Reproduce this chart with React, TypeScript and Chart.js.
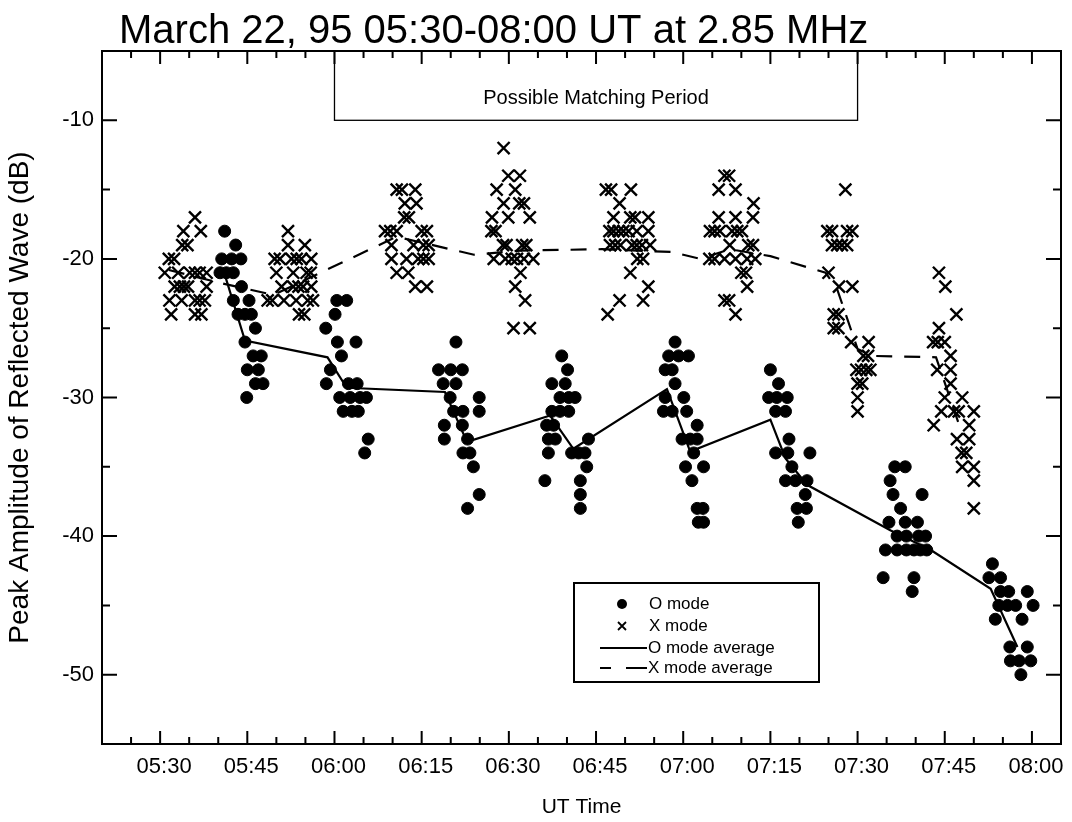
import React, { useEffect, useRef } from "react";
import { Chart, registerables } from "chart.js";

Chart.register(...registerables);

const FONT = '"Liberation Sans", Arial, Helvetica, sans-serif';

// Time values are minutes after 05:00 UT
const oTime = [
  41.1, 43.0, 40.6, 42.3, 43.9, 40.3, 41.4, 42.6, 44.0, 42.6, 45.3, 43.4, 44.6, 45.7, 46.4, 44.6, 46.0, 47.4, 45.0, 46.9, 46.4, 47.7, 44.9,
  60.4, 62.1, 60.1, 58.5, 60.5, 63.7, 61.2, 59.3, 58.6, 62.4, 63.9, 60.9, 62.7, 64.4, 65.5, 61.5, 63.0, 64.1, 65.8, 65.2,
  80.9, 77.9, 80.0, 82.0, 78.7, 80.9, 79.9, 84.9, 80.5, 82.1, 84.9, 78.9, 82.0, 78.9, 82.9, 82.1, 83.3, 83.9, 84.9, 82.9,
  99.1, 100.1, 97.4, 99.7, 98.8, 100.3, 101.4, 97.4, 98.8, 100.3, 96.5, 97.7, 96.8, 98.0, 103.7, 96.8, 100.8, 102.0, 103.1, 103.4, 96.2, 102.3, 102.3, 102.3,
  118.6, 117.5, 119.2, 120.9, 116.9, 118.1, 118.6, 116.9, 120.1, 116.6, 118.1, 120.6, 122.4, 119.8, 121.2, 122.4, 121.8, 120.4, 123.5, 121.5, 122.4, 123.4, 122.6, 123.5,
  135.0, 136.4, 134.7, 136.1, 137.9, 135.9, 137.6, 138.2, 135.9, 138.0, 141.8, 138.7, 137.6, 139.3, 141.3, 141.0, 139.6, 141.2, 139.8,
  156.4, 158.2, 155.6, 156.1, 161.1, 157.4, 155.4, 158.2, 160.3, 156.8, 158.4, 160.5, 161.7, 154.8, 156.8, 158.4, 159.7, 160.8, 161.9, 154.4, 159.7, 159.4,
  173.2, 172.6, 174.6, 174.6, 176.0, 179.2, 174.3, 175.8, 177.2, 180.2, 173.7, 178.3, 176.2, 179.2, 176.3, 177.8, 179.8, 178.1,
];
const oDb = [
  -18, -19, -20, -20, -20, -21, -21, -21, -22, -23, -23, -24, -24, -24, -25, -26, -27, -27, -28, -28, -29, -29, -30,
  -23, -23, -24, -25, -26, -26, -27, -28, -29, -29, -29, -30, -30, -30, -30, -31, -31, -31, -33, -34,
  -26, -28, -28, -28, -29, -29, -30, -30, -31, -31, -31, -32, -32, -33, -33, -34, -34, -35, -37, -38,
  -27, -28, -29, -29, -30, -30, -30, -31, -31, -31, -32, -32, -33, -33, -33, -34, -34, -34, -34, -35, -36, -36, -37, -38,
  -26, -27, -27, -27, -28, -28, -29, -30, -30, -31, -31, -31, -32, -33, -33, -33, -34, -35, -35, -36, -38, -38, -39, -39,
  -28, -29, -30, -30, -30, -31, -31, -33, -34, -34, -34, -35, -36, -36, -36, -37, -38, -38, -39,
  -35, -35, -36, -37, -37, -38, -39, -39, -39, -40, -40, -40, -40, -41, -41, -41, -41, -41, -41, -43, -43, -44,
  -42, -43, -43, -44, -44, -44, -45, -45, -45, -45, -46, -46, -48, -48, -49, -49, -49, -50,
];

const xTime = [
  36.0, 34.0, 37.0, 33.8, 34.7, 31.5, 32.4, 30.8, 33.1, 35.1, 36.0, 36.8, 38.0, 32.5, 33.4, 34.1, 34.8, 38.0, 31.6, 33.7, 36.0, 36.8, 37.7, 31.9, 36.0, 37.1,
  52.0, 52.0, 54.9, 49.7, 50.6, 52.6, 53.5, 54.3, 56.0, 50.0, 52.9, 55.2, 55.9, 50.9, 52.9, 53.8, 54.6, 56.0, 48.5, 49.3, 51.3, 53.4, 55.4, 56.3, 53.9, 54.8,
  70.7, 71.6, 73.9, 72.1, 74.1, 72.0, 72.8, 68.7, 69.6, 70.7, 75.0, 75.9, 69.8, 73.6, 75.3, 76.2, 69.8, 72.4, 74.4, 75.3, 76.2, 70.7, 72.7, 73.9, 75.9,
  89.1, 89.9, 91.9, 87.9, 91.1, 89.1, 91.8, 92.6, 87.1, 89.9, 93.6, 87.0, 87.7, 89.0, 89.6, 92.3, 93.0, 87.4, 89.4, 90.5, 91.4, 92.6, 94.2, 92.0, 91.1, 92.8, 90.8, 93.6,
  106.7, 107.6, 111.0, 109.05, 108.0, 110.9, 111.7, 114.0, 107.3, 108.0, 108.9, 109.7, 110.6, 112.0, 114.0, 107.4, 108.3, 109.2, 111.2, 112.0, 112.9, 114.3, 112.1, 113.1, 110.9, 114.0, 109.05, 113.1, 107.0,
  127.1, 127.9, 126.1, 129.0, 132.1, 126.1, 129.0, 132.0, 124.6, 125.4, 126.3, 128.4, 129.3, 130.1, 128.0, 131.2, 132.0, 124.5, 125.4, 127.1, 129.0, 131.0, 132.4, 130.0, 130.8, 131.0, 127.1, 127.9, 129.0,
  147.9, 144.8, 145.6, 148.2, 149.1, 145.6, 146.5, 147.3, 148.2, 145.0, 146.8, 149.1, 145.9, 146.7, 145.9, 146.7, 148.9, 151.9, 151.0, 151.8, 149.8, 150.6, 151.5, 152.2, 150.0, 150.8, 150.0, 150.0,
  164.0, 165.1, 167.0, 164.0, 163.0, 163.8, 165.0, 166.0, 163.7, 166.0, 166.0, 165.0, 168.0, 164.4, 166.6, 167.4, 170.0, 163.1, 169.2, 167.1, 169.2, 167.9, 168.7, 168.0, 170.0, 170.0, 170.0,
];
const xDb = [
  -17, -18, -18, -19, -19, -20, -20, -21, -21, -21, -21, -21, -21, -22, -22, -22, -22, -22, -23, -23, -23, -23, -23, -24, -24, -24,
  -18, -19, -19, -20, -20, -20, -20, -20, -20, -21, -21, -21, -21, -22, -22, -22, -22, -22, -23, -23, -23, -23, -23, -23, -24, -24,
  -15, -15, -15, -16, -16, -17, -17, -18, -18, -18, -18, -18, -19, -19, -19, -19, -20, -20, -20, -20, -20, -21, -21, -22, -22,
  -12, -14, -14, -15, -15, -16, -16, -16, -17, -17, -17, -18, -18, -19, -19, -19, -19, -20, -20, -20, -20, -20, -20, -21, -22, -23, -25, -25,
  -15, -15, -15, -16, -17, -17, -17, -17, -18, -18, -18, -18, -18, -18, -18, -19, -19, -19, -19, -19, -19, -19, -20, -20, -21, -22, -23, -23, -24,
  -14, -14, -15, -15, -16, -17, -17, -17, -18, -18, -18, -18, -18, -18, -19, -19, -19, -20, -20, -20, -20, -20, -20, -21, -21, -22, -23, -23, -24,
  -15, -18, -18, -18, -18, -19, -19, -19, -19, -21, -22, -22, -24, -24, -25, -25, -26, -26, -27, -27, -28, -28, -28, -28, -29, -29, -30, -31,
  -21, -22, -24, -25, -26, -26, -26, -27, -28, -28, -29, -30, -30, -31, -31, -31, -31, -32, -32, -33, -33, -34, -34, -35, -35, -36, -38,
];

const oAvgTime = [40.95, 44.6, 58.8, 62.1, 79.0, 82.8, 97.1, 101.1, 117.2, 121.2, 135.0, 137.6, 141.3, 155.7, 162.6, 172.9, 177.5];
const oAvgDb = [-20.9, -25.9, -27.1, -29.3, -29.6, -33.2, -31.3, -33.7, -29.4, -33.9, -31.6, -34.4, -36.3, -39.6, -41.0, -43.8, -48.0];

const xAvgTime = [31.5, 40, 49.5, 70.7, 84, 92, 106, 118, 123, 128, 135, 144.5, 146.5, 150, 152.5, 163.5, 167.5];
const xAvgDb = [-20.8, -21.7, -22.6, -18.4, -19.7, -19.4, -19.3, -19.5, -20.0, -19.3, -19.8, -21.0, -22.2, -26.5, -27.0, -27.1, -32.0];

const xTickValues = [30, 45, 60, 75, 90, 105, 120, 135, 150, 165, 180];
const xTickLabels = ["05:30", "05:45", "06:00", "06:15", "06:30", "06:45", "07:00", "07:15", "07:30", "07:45", "08:00"];
const xMinorValues = [25, 30, 35, 40, 45, 50, 55, 60, 65, 70, 75, 80, 85, 90, 95, 100, 105, 110, 115, 120, 125, 130, 135, 140, 145, 150, 155, 160, 165, 170, 175, 180];
const yTickValues = [-50, -40, -30, -20, -10];
const yMinorValues = [-50, -45, -40, -35, -30, -25, -20, -15, -10];

const titleText = "March 22, 95 05:30-08:00 UT at 2.85 MHz";
const xAxisTitle = "UT Time";
const yAxisTitle = "Peak Amplitude of Reflected Wave (dB)";
const matchLabel = "Possible Matching Period";
const matchStart = 60;
const matchEnd = 150;
const matchBottom = -10;
const legendLabels = ["O mode", "X mode", "O mode average", "X mode average"];

const decor = {
  id: "decor",
  afterDatasetsDraw(chart: any) {
    const { ctx, chartArea: a, scales } = chart;
    const xs = scales.x;
    const ys = scales.y;
    ctx.save();
    ctx.strokeStyle = "#000";
    ctx.fillStyle = "#000";
    ctx.lineCap = "butt";

    // frame
    ctx.lineWidth = 2;
    ctx.strokeRect(a.left, a.top, a.right - a.left, a.bottom - a.top);

    // ticks
    ctx.beginPath();
    xMinorValues.forEach((v) => {
      const px = xs.getPixelForValue(v);
      const len = xTickValues.includes(v) ? 13 : 7;
      ctx.moveTo(px, a.bottom);
      ctx.lineTo(px, a.bottom - len);
      ctx.moveTo(px, a.top);
      ctx.lineTo(px, a.top + len);
    });
    yMinorValues.forEach((v) => {
      const py = ys.getPixelForValue(v);
      const len = yTickValues.includes(v) ? 15 : 8;
      ctx.moveTo(a.left, py);
      ctx.lineTo(a.left + len, py);
      ctx.moveTo(a.right, py);
      ctx.lineTo(a.right - len, py);
    });
    ctx.stroke();

    // possible matching period box
    const bx0 = xs.getPixelForValue(matchStart);
    const bx1 = xs.getPixelForValue(matchEnd);
    const by1 = ys.getPixelForValue(matchBottom);
    ctx.lineWidth = 1.3;
    ctx.strokeRect(bx0, a.top, bx1 - bx0, by1 - a.top);
    ctx.font = `20px ${FONT}`;
    ctx.textAlign = "center";
    ctx.textBaseline = "middle";
    ctx.fillText(matchLabel, (bx0 + bx1) / 2, 98);

    // legend
    ctx.fillStyle = "#fff";
    ctx.fillRect(574, 583, 245, 99);
    ctx.fillStyle = "#000";
    ctx.lineWidth = 2;
    ctx.strokeRect(574, 583, 245, 99);
    const rows = [604, 626, 648, 668];
    ctx.beginPath();
    ctx.arc(622, rows[0], 5, 0, Math.PI * 2);
    ctx.fill();
    ctx.lineWidth = 1.8;
    ctx.beginPath();
    ctx.moveTo(618, rows[1] - 4);
    ctx.lineTo(626, rows[1] + 4);
    ctx.moveTo(626, rows[1] - 4);
    ctx.lineTo(618, rows[1] + 4);
    ctx.stroke();
    ctx.lineWidth = 2;
    ctx.beginPath();
    ctx.moveTo(600, rows[2]);
    ctx.lineTo(647, rows[2]);
    ctx.moveTo(600, rows[3]);
    ctx.lineTo(611, rows[3]);
    ctx.moveTo(626, rows[3]);
    ctx.lineTo(647, rows[3]);
    ctx.stroke();
    ctx.font = `17px ${FONT}`;
    ctx.textAlign = "left";
    ctx.textBaseline = "middle";
    legendLabels.forEach((t, i) => ctx.fillText(t, i < 2 ? 649 : 648, rows[i]));

    // title
    ctx.font = `40px ${FONT}`;
    ctx.textAlign = "left";
    ctx.textBaseline = "alphabetic";
    ctx.fillText(titleText, 119, 43);
    ctx.restore();
  },
};

export default function App() {
  const ref = useRef<HTMLCanvasElement | null>(null);
  useEffect(() => {
    if (!ref.current) return;
    const chart = new Chart(ref.current, {
      type: "scatter",
      data: {
        datasets: [
          {
            label: legendLabels[0],
            data: oTime.map((t, i) => ({ x: t, y: oDb[i] })),
            pointStyle: "circle",
            pointRadius: 6,
            pointBackgroundColor: "#000",
            pointBorderColor: "#000",
            pointBorderWidth: 1,
            showLine: false,
          },
          {
            label: legendLabels[1],
            data: xTime.map((t, i) => ({ x: t, y: xDb[i] })),
            pointStyle: "crossRot",
            pointRadius: 8.5,
            pointBackgroundColor: "#000",
            pointBorderColor: "#000",
            pointBorderWidth: 2.4,
            showLine: false,
          },
          {
            label: legendLabels[2],
            data: oAvgTime.map((t, i) => ({ x: t, y: oAvgDb[i] })),
            showLine: true,
            borderColor: "#000",
            borderWidth: 2.2,
            pointRadius: 0,
            fill: false,
          },
          {
            label: legendLabels[3],
            data: xAvgTime.map((t, i) => ({ x: t, y: xAvgDb[i] })),
            showLine: true,
            borderColor: "#000",
            borderWidth: 2.2,
            borderDash: [16, 12],
            pointRadius: 0,
            fill: false,
          },
        ],
      },
      options: {
        responsive: false,
        animation: false,
        events: [],
        layout: { padding: { top: 51, right: 11, left: 0, bottom: 0 } },
        plugins: {
          legend: { display: false },
          title: { display: false },
          tooltip: { enabled: false },
        },
        scales: {
          x: {
            type: "linear",
            min: 20,
            max: 185,
            afterBuildTicks: (s: any) => {
              s.ticks = xTickValues.map((v) => ({ value: v }));
            },
            afterFit: (s: any) => {
              s.height = 78;
            },
            ticks: {
              callback: (_v: any, i: number) => xTickLabels[i],
              font: { family: FONT, size: 22 },
              color: "#000",
              padding: 10,
              labelOffset: 4,
              maxRotation: 0,
              autoSkip: false,
            },
            grid: { display: false, drawTicks: false },
            border: { display: false },
            title: {
              display: true,
              text: xAxisTitle,
              font: { family: FONT, size: 21 },
              color: "#000",
              padding: { top: 0, bottom: 2 },
            },
          },
          y: {
            type: "linear",
            min: -55,
            max: -5,
            afterBuildTicks: (s: any) => {
              s.ticks = yTickValues.map((v) => ({ value: v }));
            },
            afterFit: (s: any) => {
              s.width = 102;
            },
            ticks: {
              font: { family: FONT, size: 22 },
              color: "#000",
              padding: 8,
            },
            grid: { display: false, drawTicks: false },
            border: { display: false },
            title: {
              display: true,
              text: yAxisTitle,
              font: { family: FONT, size: 28 },
              color: "#000",
              padding: { top: 3, bottom: 0 },
            },
          },
        },
      },
      plugins: [decor],
    });
    return () => chart.destroy();
  }, []);

  return (
    <div style={{ position: "absolute", left: 0, top: 0, width: 1072, height: 822, background: "#fff" }}>
      <canvas ref={ref} width={1072} height={822} style={{ display: "block" }} />
    </div>
  );
}
